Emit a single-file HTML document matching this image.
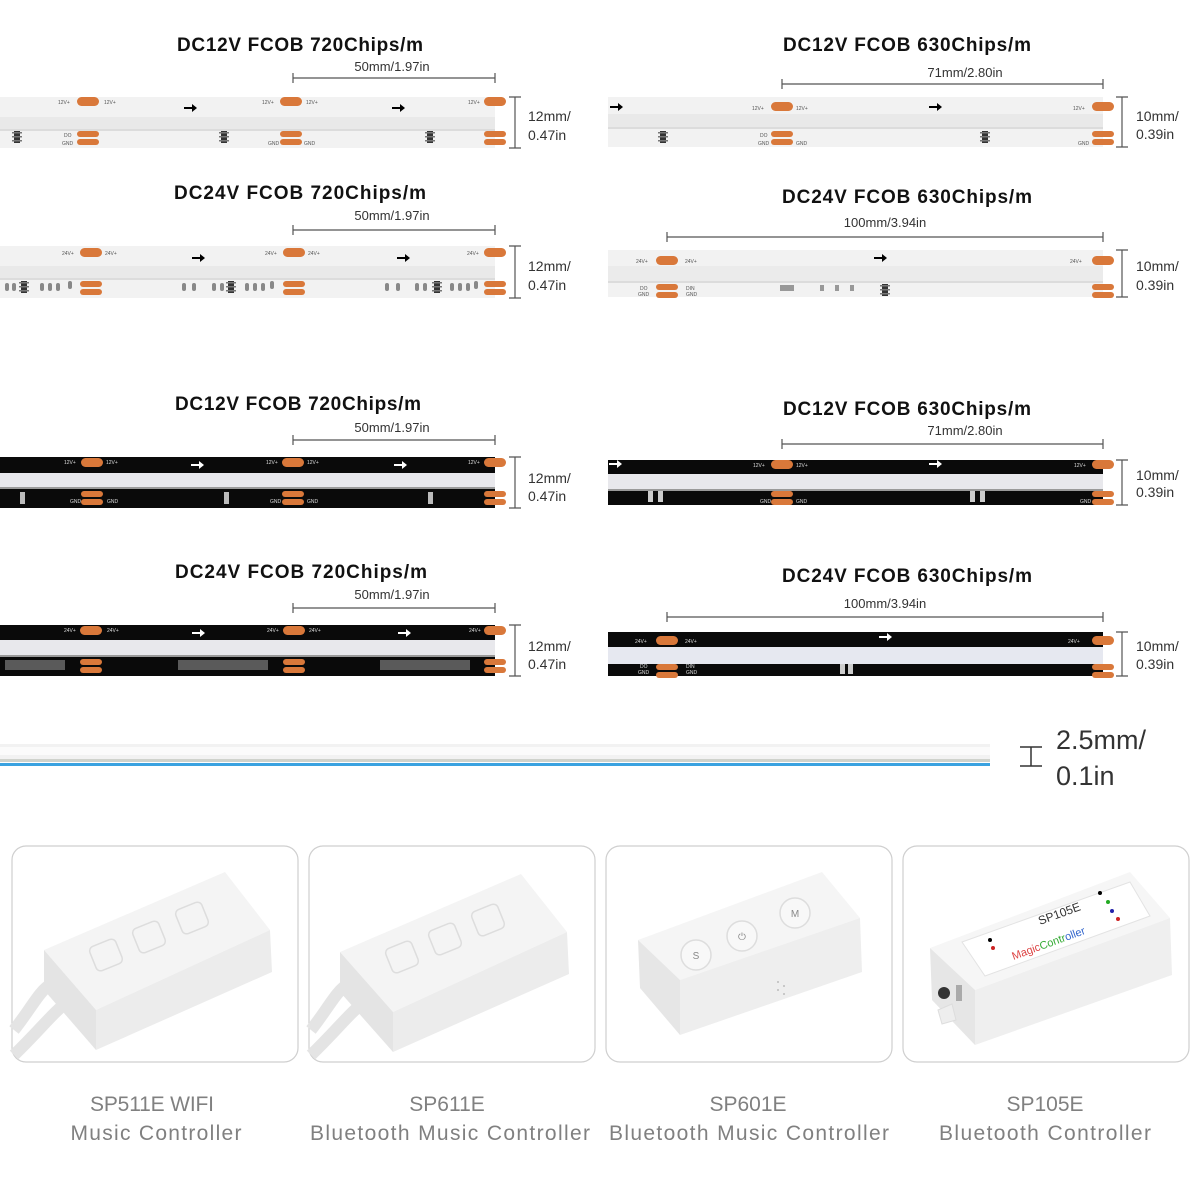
<!DOCTYPE html>
<html><head><meta charset="utf-8"><style>
html,body{margin:0;padding:0;background:#fff}
svg{display:block}
text{font-family:"Liberation Sans",Arial,sans-serif}
.t{font-size:19px;font-weight:bold;fill:#111;text-anchor:middle}
.d{font-size:13px;fill:#333;text-anchor:middle}
.m{font-size:14px;fill:#333}
.c{font-size:21px;fill:#808080;text-anchor:middle}
.s{font-size:5px;fill:#555}
.sw{font-size:5px;fill:#ddd}
</style></head><body>
<svg width="1200" height="1200" viewBox="0 0 1200 1200" xmlns="http://www.w3.org/2000/svg">
<defs>
<g id="pw"><rect x="-11" y="0" width="22" height="9" rx="4.5" fill="#d9783a"/></g>
<g id="pb"><rect x="-11" y="0" width="22" height="6" rx="3" fill="#d9783a"/><rect x="-11" y="8" width="22" height="6" rx="3" fill="#d9783a"/></g>
<g id="chip"><rect x="-3" y="0" width="6" height="12" fill="#333"/><rect x="-5" y="1" width="10" height="1.5" fill="#777"/><rect x="-5" y="5" width="10" height="1.5" fill="#777"/><rect x="-5" y="9" width="10" height="1.5" fill="#777"/></g>
<g id="arr"><path d="M-6 -1h8v-3l5 4-5 4v-3h-8z"/></g>
</defs>

<g stroke="#555" stroke-width="1.2" fill="none">
<path d="M293 78H495M293 73v10M495 73v10"/>
<path d="M293 230H495M293 225v10M495 225v10"/>
<path d="M293 440H495M293 435v10M495 435v10"/>
<path d="M293 608H495M293 603v10M495 603v10"/>
<path d="M782 84H1103M782 79v10M1103 79v10"/>
<path d="M667 237H1103M667 232v10M1103 232v10"/>
<path d="M782 444H1103M782 439v10M1103 439v10"/>
<path d="M667 617H1103M667 612v10M1103 612v10"/>
<path d="M515 97v51M509 97h12M509 148h12"/>
<path d="M515 246v52M509 246h12M509 298h12"/>
<path d="M515 457v51M509 457h12M509 508h12"/>
<path d="M515 625v51M509 625h12M509 676h12"/>
<path d="M1122 97v50M1116 97h12M1116 147h12"/>
<path d="M1122 250v47M1116 250h12M1116 297h12"/>
<path d="M1122 460v45M1116 460h12M1116 505h12"/>
<path d="M1122 632v44M1116 632h12M1116 676h12"/>
<path d="M1031 747v19M1020 747h22M1020 766h22" stroke="#333" stroke-width="1.5"/>
</g>

<text class="t" x="300" y="51" textLength="246">DC12V FCOB 720Chips/m</text>
<text class="t" x="300" y="199" textLength="252">DC24V FCOB 720Chips/m</text>
<text class="t" x="298" y="410" textLength="246">DC12V FCOB 720Chips/m</text>
<text class="t" x="301" y="578" textLength="252">DC24V FCOB 720Chips/m</text>
<text class="t" x="907" y="51" textLength="248">DC12V FCOB 630Chips/m</text>
<text class="t" x="907" y="203" textLength="250">DC24V FCOB 630Chips/m</text>
<text class="t" x="907" y="415" textLength="248">DC12V FCOB 630Chips/m</text>
<text class="t" x="907" y="582" textLength="250">DC24V FCOB 630Chips/m</text>

<text class="d" x="392" y="71">50mm/1.97in</text>
<text class="d" x="392" y="220">50mm/1.97in</text>
<text class="d" x="392" y="432">50mm/1.97in</text>
<text class="d" x="392" y="599">50mm/1.97in</text>
<text class="d" x="965" y="77">71mm/2.80in</text>
<text class="d" x="885" y="227">100mm/3.94in</text>
<text class="d" x="965" y="435">71mm/2.80in</text>
<text class="d" x="885" y="608">100mm/3.94in</text>

<text class="m" x="528" y="121">12mm/</text><text class="m" x="528" y="140">0.47in</text>
<text class="m" x="528" y="271">12mm/</text><text class="m" x="528" y="290">0.47in</text>
<text class="m" x="528" y="483">12mm/</text><text class="m" x="528" y="501">0.47in</text>
<text class="m" x="528" y="651">12mm/</text><text class="m" x="528" y="669">0.47in</text>
<text class="m" x="1136" y="121">10mm/</text><text class="m" x="1136" y="139">0.39in</text>
<text class="m" x="1136" y="271">10mm/</text><text class="m" x="1136" y="290">0.39in</text>
<text class="m" x="1136" y="480">10mm/</text><text class="m" x="1136" y="497">0.39in</text>
<text class="m" x="1136" y="651">10mm/</text><text class="m" x="1136" y="669">0.39in</text>

<g>
<rect x="0" y="97" width="495" height="51" fill="#f2f2f2"/>
<rect x="0" y="117" width="495" height="12" fill="#e9e9e9"/>
<rect x="0" y="129" width="495" height="2" fill="#dcdcdc"/>
<use href="#pw" x="88" y="97"/><use href="#pw" x="291" y="97"/><use href="#pw" x="495" y="97"/>
<use href="#pb" x="88" y="131"/><use href="#pb" x="291" y="131"/><use href="#pb" x="495" y="131"/>
<use href="#chip" x="17" y="131"/><use href="#chip" x="224" y="131"/><use href="#chip" x="430" y="131"/>
<use href="#arr" x="190" y="108"/><use href="#arr" x="398" y="108"/>
<text class="s" x="58" y="104">12V+</text><text class="s" x="104" y="104">12V+</text>
<text class="s" x="262" y="104">12V+</text><text class="s" x="306" y="104">12V+</text><text class="s" x="468" y="104">12V+</text>
<text class="s" x="64" y="137">DO</text><text class="s" x="62" y="145">GND</text><text class="s" x="268" y="145">GND</text><text class="s" x="304" y="145">GND</text>
</g>
<g>
<rect x="0" y="246" width="495" height="52" fill="#f2f2f2"/>
<rect x="0" y="266" width="495" height="12" fill="#e9e9e9"/>
<rect x="0" y="278" width="495" height="2" fill="#dcdcdc"/>
<use href="#pw" x="91" y="248"/><use href="#pw" x="294" y="248"/><use href="#pw" x="495" y="248"/>
<use href="#pb" x="91" y="281"/><use href="#pb" x="294" y="281"/><use href="#pb" x="495" y="281"/>
<use href="#chip" x="24" y="281"/><use href="#chip" x="231" y="281"/><use href="#chip" x="437" y="281"/>
<use href="#arr" x="198" y="258"/><use href="#arr" x="403" y="258"/>
<g fill="#888"><rect x="5" y="283" width="4" height="8" rx="2"/><rect x="12" y="283" width="4" height="8" rx="2"/><rect x="40" y="283" width="4" height="8" rx="2"/><rect x="48" y="283" width="4" height="8" rx="2"/><rect x="56" y="283" width="4" height="8" rx="2"/><rect x="68" y="281" width="4" height="8" rx="2"/>
<rect x="182" y="283" width="4" height="8" rx="2"/><rect x="192" y="283" width="4" height="8" rx="2"/><rect x="212" y="283" width="4" height="8" rx="2"/><rect x="220" y="283" width="4" height="8" rx="2"/><rect x="245" y="283" width="4" height="8" rx="2"/><rect x="253" y="283" width="4" height="8" rx="2"/><rect x="261" y="283" width="4" height="8" rx="2"/><rect x="270" y="281" width="4" height="8" rx="2"/>
<rect x="385" y="283" width="4" height="8" rx="2"/><rect x="396" y="283" width="4" height="8" rx="2"/><rect x="415" y="283" width="4" height="8" rx="2"/><rect x="423" y="283" width="4" height="8" rx="2"/><rect x="450" y="283" width="4" height="8" rx="2"/><rect x="458" y="283" width="4" height="8" rx="2"/><rect x="466" y="283" width="4" height="8" rx="2"/><rect x="474" y="281" width="4" height="8" rx="2"/></g>
<text class="s" x="62" y="255">24V+</text><text class="s" x="105" y="255">24V+</text>
<text class="s" x="265" y="255">24V+</text><text class="s" x="308" y="255">24V+</text><text class="s" x="467" y="255">24V+</text>
</g>

<g>
<rect x="0" y="457" width="495" height="51" fill="#0a0a0a"/>
<rect x="0" y="473" width="495" height="14" fill="#e8e8ec"/>
<rect x="0" y="487" width="495" height="2" fill="#9a9a9a"/>
<use href="#pw" x="92" y="458"/><use href="#pw" x="293" y="458"/><use href="#pw" x="495" y="458"/>
<use href="#pb" x="92" y="491"/><use href="#pb" x="293" y="491"/><use href="#pb" x="495" y="491"/>
<g fill="#fff"><use href="#arr" x="197" y="465"/><use href="#arr" x="400" y="465"/></g>
<g fill="#bbb"><rect x="20" y="492" width="5" height="12"/><rect x="224" y="492" width="5" height="12"/><rect x="428" y="492" width="5" height="12"/></g>
<text class="sw" x="64" y="464">12V+</text><text class="sw" x="106" y="464">12V+</text><text class="sw" x="266" y="464">12V+</text><text class="sw" x="307" y="464">12V+</text><text class="sw" x="468" y="464">12V+</text>
<text class="sw" x="70" y="503">GND</text><text class="sw" x="107" y="503">GND</text><text class="sw" x="270" y="503">GND</text><text class="sw" x="307" y="503">GND</text>
</g>
<g>
<rect x="0" y="625" width="495" height="51" fill="#0a0a0a"/>
<rect x="0" y="640" width="495" height="15" fill="#e8e8ec"/>
<rect x="0" y="655" width="495" height="2" fill="#9a9a9a"/>
<use href="#pw" x="91" y="626"/><use href="#pw" x="294" y="626"/><use href="#pw" x="495" y="626"/>
<use href="#pb" x="91" y="659"/><use href="#pb" x="294" y="659"/><use href="#pb" x="495" y="659"/>
<g fill="#fff"><use href="#arr" x="198" y="633"/><use href="#arr" x="404" y="633"/></g>
<g fill="#aaa"><rect x="5" y="660" width="60" height="10" opacity=".5"/><rect x="178" y="660" width="90" height="10" opacity=".5"/><rect x="380" y="660" width="90" height="10" opacity=".5"/></g>
<text class="sw" x="64" y="632">24V+</text><text class="sw" x="107" y="632">24V+</text><text class="sw" x="267" y="632">24V+</text><text class="sw" x="309" y="632">24V+</text><text class="sw" x="469" y="632">24V+</text>
</g>

<g>
<rect x="608" y="97" width="495" height="50" fill="#f2f2f2"/>
<rect x="608" y="114" width="495" height="13" fill="#e9e9e9"/>
<rect x="608" y="127" width="495" height="2" fill="#dcdcdc"/>
<use href="#pw" x="782" y="102"/><use href="#pw" x="1103" y="102"/>
<use href="#pb" x="782" y="131"/><use href="#pb" x="1103" y="131"/>
<use href="#chip" x="663" y="131"/><use href="#chip" x="985" y="131"/>
<use href="#arr" x="616" y="107"/><use href="#arr" x="935" y="107"/>
<text class="s" x="752" y="110">12V+</text><text class="s" x="796" y="110">12V+</text><text class="s" x="1073" y="110">12V+</text>
<text class="s" x="760" y="137">DO</text><text class="s" x="758" y="145">GND</text><text class="s" x="796" y="145">GND</text><text class="s" x="1078" y="145">GND</text>
</g>
<g>
<rect x="608" y="250" width="495" height="47" fill="#f2f2f2"/>
<rect x="608" y="266" width="495" height="15" fill="#ebebeb"/>
<rect x="608" y="281" width="495" height="2" fill="#dcdcdc"/>
<use href="#pw" x="667" y="256"/><use href="#pw" x="1103" y="256"/>
<use href="#pb" x="667" y="284"/><use href="#pb" x="1103" y="284"/>
<use href="#chip" x="885" y="284"/>
<use href="#arr" x="880" y="258"/>
<g fill="#999"><rect x="780" y="285" width="14" height="6"/><rect x="820" y="285" width="4" height="6"/><rect x="835" y="285" width="4" height="6"/><rect x="850" y="285" width="4" height="6"/></g>
<text class="s" x="636" y="263">24V+</text><text class="s" x="685" y="263">24V+</text><text class="s" x="1070" y="263">24V+</text>
<text class="s" x="640" y="290">DO</text><text class="s" x="638" y="296">GND</text><text class="s" x="686" y="290">DIN</text><text class="s" x="686" y="296">GND</text>
</g>

<g>
<rect x="608" y="460" width="495" height="45" fill="#0a0a0a"/>
<rect x="608" y="474" width="495" height="15" fill="#e8e8ec"/>
<rect x="608" y="489" width="495" height="2" fill="#9a9a9a"/>
<use href="#pw" x="782" y="460"/><use href="#pw" x="1103" y="460"/>
<use href="#pb" x="782" y="491"/><use href="#pb" x="1103" y="491"/>
<g fill="#fff"><use href="#arr" x="615" y="464"/><use href="#arr" x="935" y="464"/></g>
<g fill="#ccc"><rect x="648" y="491" width="5" height="11"/><rect x="658" y="491" width="5" height="11"/><rect x="970" y="491" width="5" height="11"/><rect x="980" y="491" width="5" height="11"/></g>
<text class="sw" x="753" y="467">12V+</text><text class="sw" x="796" y="467">12V+</text><text class="sw" x="1074" y="467">12V+</text>
<text class="sw" x="760" y="503">GND</text><text class="sw" x="796" y="503">GND</text><text class="sw" x="1080" y="503">GND</text>
</g>
<g>
<rect x="608" y="632" width="495" height="44" fill="#0a0a0a"/>
<rect x="608" y="647" width="495" height="17" fill="#e6e8f0"/>
<use href="#pw" x="667" y="636"/><use href="#pw" x="1103" y="636"/>
<use href="#pb" x="667" y="664"/><use href="#pb" x="1103" y="664"/>
<g fill="#fff"><use href="#arr" x="885" y="637"/></g>
<g fill="#ccc"><rect x="840" y="664" width="5" height="10"/><rect x="848" y="664" width="5" height="10"/></g>
<text class="sw" x="635" y="643">24V+</text><text class="sw" x="685" y="643">24V+</text><text class="sw" x="1068" y="643">24V+</text>
<text class="sw" x="640" y="668">DO</text><text class="sw" x="638" y="674">GND</text><text class="sw" x="686" y="668">DIN</text><text class="sw" x="686" y="674">GND</text>
</g>

<rect x="0" y="744" width="990" height="18" fill="#f2f2f2"/>
<rect x="0" y="747" width="990" height="8" fill="#fbfbfb"/>
<rect x="0" y="759" width="990" height="3" fill="#cfd2cc"/>
<rect x="0" y="763" width="990" height="3" fill="#3aa2e0"/>
<text x="1056" y="749" font-size="27" fill="#333">2.5mm/</text>
<text x="1056" y="785" font-size="27" fill="#333">0.1in</text>

<g fill="#fff" stroke="#cfcfcf" stroke-width="1.2">
<rect x="12" y="846" width="286" height="216" rx="14"/>
<rect x="309" y="846" width="286" height="216" rx="14"/>
<rect x="606" y="846" width="286" height="216" rx="14"/>
<rect x="903" y="846" width="286" height="216" rx="14"/>
</g>

<g>
<path d="M14 1030 C30 1010 40 990 50 985" stroke="#e4e4e4" stroke-width="12" fill="none"/>
<path d="M14 1055 C40 1030 55 1010 70 1000" stroke="#e4e4e4" stroke-width="12" fill="none"/>
<polygon points="44,950 225,872 270,930 96,1010" fill="#f4f4f4"/>
<polygon points="44,950 96,1010 96,1050 44,990" fill="#e4e4e4"/>
<polygon points="96,1010 270,930 272,972 96,1050" fill="#ececec"/>
<g fill="none" stroke="#ddd" stroke-width="1.5"><rect x="92" y="942" width="28" height="26" rx="5" transform="rotate(-22 106 955)"/><rect x="135" y="924" width="28" height="26" rx="5" transform="rotate(-22 149 937)"/><rect x="178" y="905" width="28" height="26" rx="5" transform="rotate(-22 192 918)"/></g>
</g>
<g>
<path d="M311 1030 C327 1010 337 990 347 985" stroke="#e4e4e4" stroke-width="12" fill="none"/>
<path d="M311 1055 C337 1030 352 1010 367 1000" stroke="#e4e4e4" stroke-width="12" fill="none"/>
<polygon points="340,952 521,874 567,932 393,1012" fill="#f4f4f4"/>
<polygon points="340,952 393,1012 393,1052 340,992" fill="#e4e4e4"/>
<polygon points="393,1012 567,932 569,974 393,1052" fill="#ececec"/>
<g fill="none" stroke="#ddd" stroke-width="1.5"><rect x="388" y="944" width="28" height="26" rx="5" transform="rotate(-22 402 957)"/><rect x="431" y="926" width="28" height="26" rx="5" transform="rotate(-22 445 939)"/><rect x="474" y="907" width="28" height="26" rx="5" transform="rotate(-22 488 920)"/></g>
</g>
<g>
<polygon points="638,940 822,872 860,918 680,980" fill="#f5f5f5"/>
<polygon points="638,940 680,980 680,1035 640,988" fill="#e6e6e6"/>
<polygon points="680,980 860,918 862,972 680,1035" fill="#eeeeee"/>
<g fill="#f8f8f8" stroke="#ddd" stroke-width="1.5"><circle cx="696" cy="955" r="15"/><circle cx="742" cy="936" r="15"/><circle cx="795" cy="913" r="15"/></g>
<g fill="#888" font-size="10" text-anchor="middle"><text x="696" y="959">S</text><text x="742" y="940">⏻</text><text x="795" y="917">M</text></g>
<g fill="#bbb"><circle cx="778" cy="982" r="1"/><circle cx="784" cy="986" r="1"/><circle cx="778" cy="990" r="1"/><circle cx="784" cy="994" r="1"/></g>
</g>
<g>
<polygon points="930,948 1130,872 1170,918 975,990" fill="#f6f6f6"/>
<polygon points="930,948 975,990 975,1045 932,1000" fill="#e6e6e6"/>
<polygon points="975,990 1170,918 1172,975 975,1045" fill="#efefef"/>
<polygon points="962,942 1130,882 1150,916 985,976" fill="#fff" stroke="#e3e3e3"/>
<text x="1040" y="925" font-size="12" fill="#333" transform="rotate(-20 1040 925)">SP105E</text>
<text x="1010" y="950" font-size="11" fill="#d44" transform="rotate(-20 1040 945)">Magic<tspan fill="#3a3">Contr</tspan><tspan fill="#36c">oller</tspan></text>
<circle cx="944" cy="993" r="6" fill="#333"/>
<rect x="956" y="985" width="6" height="16" fill="#aaa"/>
<polygon points="938,1010 952,1004 956,1020 942,1024" fill="#eee" stroke="#ddd"/>
<g><circle cx="1100" cy="893" r="2" fill="#000"/><circle cx="1108" cy="902" r="2" fill="#2a2"/><circle cx="1112" cy="911" r="2" fill="#22a"/><circle cx="1118" cy="919" r="2" fill="#c22"/><circle cx="990" cy="940" r="2" fill="#000"/><circle cx="993" cy="948" r="2" fill="#c22"/></g>
</g>

<text class="c" x="152" y="1111" textLength="124">SP511E WIFI</text>
<text class="c" x="156" y="1140" textLength="171">Music Controller</text>
<text class="c" x="447" y="1111">SP611E</text>
<text class="c" x="450" y="1140" textLength="280">Bluetooth Music Controller</text>
<text class="c" x="748" y="1111">SP601E</text>
<text class="c" x="749" y="1140" textLength="280">Bluetooth Music Controller</text>
<text class="c" x="1045" y="1111">SP105E</text>
<text class="c" x="1045" y="1140" textLength="212">Bluetooth Controller</text>
</svg>
</body></html>
